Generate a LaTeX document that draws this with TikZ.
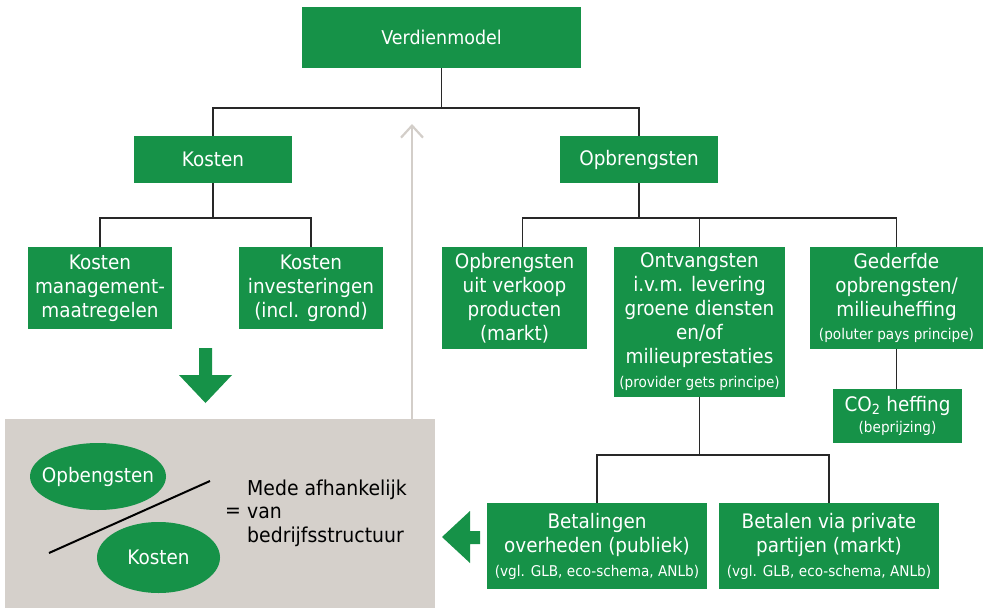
\documentclass[tikz,border=0pt]{standalone}
\usepackage{fontspec}
\setmainfont{DejaVu Sans}[FakeStretch=0.92]
\usetikzlibrary{arrows.meta,shapes.geometric}
\definecolor{grn}{RGB}{22,146,72}
\definecolor{panelgray}{RGB}{213,208,203}
\definecolor{arrowgray}{RGB}{211,206,201}
\definecolor{linecol}{RGB}{40,40,40}
\newcommand{\smtxt}[1]{{\fontsize{14.8}{24}\selectfont #1}}
\begin{document}
\begin{tikzpicture}[x=1pt,y=-1pt,
  gbox/.style={rectangle, fill=grn, text=white, inner sep=0pt, align=center, font=\fontsize{20}{24}\selectfont},
  conn/.style={draw=linecol, line width=1.4pt},
  blockarrow/.style={fill=grn},
  gell/.style={ellipse, fill=grn, inner sep=0pt},
  elltext/.style={text=white, inner sep=0pt, font=\fontsize{20}{24}\selectfont},
  plain/.style={inner sep=0pt, text=black, font=\fontsize{20.5}{23.5}\selectfont}]
\useasboundingbox (0,0) rectangle (986,608);

% boxes
\node[gbox, minimum width=279pt, minimum height=61pt, font=\fontsize{19}{24}\selectfont] (verd) at (441.5,37.5) {Verdienmodel};
\node[gbox, minimum width=158pt, minimum height=47pt] (kost) at (213,159.5) {Kosten};
\node[gbox, minimum width=158pt, minimum height=47pt] (opbr) at (639,159.5) {Opbrengsten};
\node[gbox, minimum width=144pt, minimum height=82pt] (km) at (100,288) {Kosten\\management-\\maatregelen};
\node[gbox, minimum width=144pt, minimum height=82pt] (ki) at (311,288) {Kosten\\investeringen\\(incl. grond)};
\node[gbox, minimum width=145pt, minimum height=102pt] (ouv) at (514.5,298) {Opbrengsten\\uit verkoop\\producten\\(markt)};
\node[gbox, minimum width=171pt, minimum height=150pt] (ont) at (699.5,322) {Ontvangsten\\i.v.m. levering\\groene diensten\\en/of\\milieuprestaties\\\smtxt{(provider gets principe)}};
\node[gbox, minimum width=173pt, minimum height=102pt] (ged) at (896.5,298) {Gederfde\\opbrengsten/\\milieuheffing\\[-1pt]\smtxt{(poluter pays principe)}};
\node[gbox, minimum width=129pt, minimum height=54pt] (co2) at (897.5,416) {CO\textsubscript{2} heffing\\[-3pt]\smtxt{(beprijzing)}};
\node[gbox, minimum width=220pt, minimum height=86pt] (bet) at (597,546) {Betalingen\\overheden (publiek)\\\smtxt{(vgl. GLB, eco-schema, ANLb)}};
\node[gbox, minimum width=220pt, minimum height=86pt] (bpr) at (829,546) {Betalen via private\\partijen (markt)\\\smtxt{(vgl. GLB, eco-schema, ANLb)}};

% connectors
\draw[conn] (verd.south) -- ++(0,40);
\draw[conn] (kost.north) -- ++(0,-28) -| (opbr.north);
\draw[conn] (kost.south) -- ++(0,35);
\draw[conn] (km.north) -- ++(0,-29) -| (ki.north);
\draw[conn] (opbr.south) -- ++(0,35);
\draw[conn] ([xshift=8pt]ouv.north) -- ++(0,-29) -| (ged.north);
\draw[conn] (ont.north) -- ++(0,-29);
\draw[conn] (ged.south) -- (ged.south |- co2.north);
\draw[conn] (ont.south) -- ++(0,58);
\draw[conn] (bet.north) -- ++(0,-48) -| (bpr.north);

% grey panel
\node[fill=panelgray, minimum width=430pt, minimum height=189pt, inner sep=0pt] (panel) at (220,513.5) {};
\coordinate (gtip) at (412,124);
\draw[arrowgray, line width=2.2pt, -{Straight Barb[length=12pt,width=22pt,line width=2.2pt]}] (panel.north -| gtip) -- (gtip);

\node[gell, minimum width=136pt, minimum height=67pt] (eo) at (98,476.5) {};
\node[elltext] (eot) at (eo.center) {Opbengsten};
\node[gell, minimum width=123pt, minimum height=71pt] (ek) at (158.5,557.5) {};
\node[elltext] (ekt) at (ek.center) {Kosten};
\coordinate (d1) at (49,553);
\coordinate (d2) at (210,481);
\draw[black, line width=2pt] (d1) -- (d2);
\node[plain] (eq) at (233,513) {=};
\node[plain, anchor=west, align=left] (mede) at (247,513.2) {Mede afhankelijk\\van\\bedrijfsstructuur};

% block arrows
\fill[blockarrow] (199,348) -- (212,348) -- (212,375) -- (232,375) -- (205.5,403) -- (179,375) -- (199,375) -- cycle;
\fill[blockarrow] (480,531) -- (480,544) -- (470,544) -- (470,563) -- (442,537) -- (470,511) -- (470,531) -- cycle;
\end{tikzpicture}
\end{document}
